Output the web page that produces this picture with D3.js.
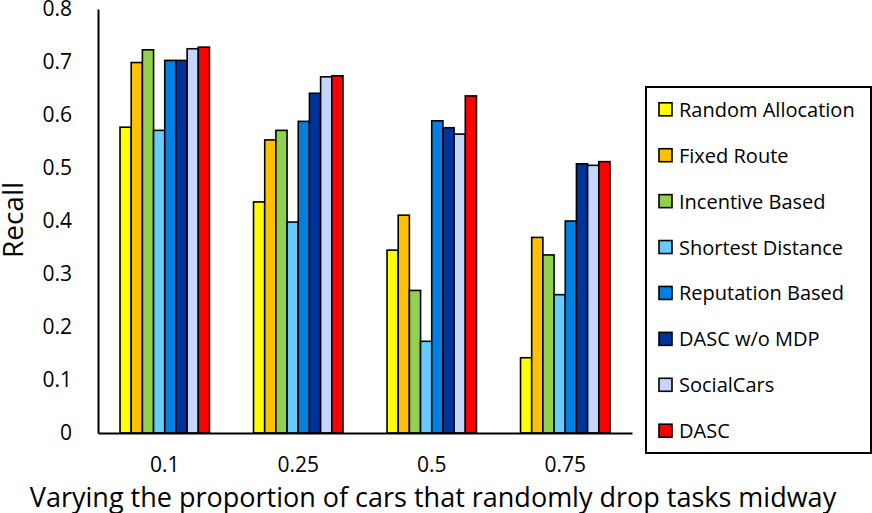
<!DOCTYPE html>
<html>
<head>
<meta charset="utf-8">
<script src="https://cdn.jsdelivr.net/npm/d3@7"></script>
<style>
  body { margin: 0; background: #fff; }
  text { font-family: "Open Sans", sans-serif; fill: #000; }
</style>
</head>
<body>
<div id="container"></div>
<script>
// proportions of cars dropping tasks (x categories)
var categories = ["0.1", "0.25", "0.5", "0.75"];
var seriesNames = ["Random Allocation", "Fixed Route", "Incentive Based", "Shortest Distance",
                   "Reputation Based", "DASC w/o MDP", "SocialCars", "DASC"];
var seriesColors = ["#FFFF00", "#FFC000", "#92D050", "#66CCFF",
                    "#0080E0", "#003399", "#C5D5FC", "#FF0000"];

// recall per series, one value per category
var randomAllocation = [0.577, 0.436, 0.345, 0.142];
var fixedRoute       = [0.699, 0.553, 0.411, 0.369];
var incentiveBased   = [0.723, 0.571, 0.269, 0.336];
var shortestDistance = [0.571, 0.398, 0.173, 0.261];
var reputationBased  = [0.703, 0.588, 0.589, 0.400];
var dascNoMdp        = [0.703, 0.641, 0.576, 0.508];
var socialCars       = [0.725, 0.672, 0.564, 0.505];
var dasc             = [0.728, 0.674, 0.636, 0.512];

var yTicks = [0, 0.1, 0.2, 0.3, 0.4, 0.5, 0.6, 0.7, 0.8];

var allSeries = [randomAllocation, fixedRoute, incentiveBased, shortestDistance,
                 reputationBased, dascNoMdp, socialCars, dasc];

var width = 872, height = 513;
// plot edges (window.top is reserved, so avoid bare "top")
var plotLeft = 98, plotRight = 632, plotTop = 9, plotBottom = 433;

var svg = d3.select("#container").append("svg")
    .attr("width", width)
    .attr("height", height);

var x = d3.scaleBand().domain(categories).range([plotLeft, plotRight]).paddingInner(0.33).paddingOuter(0.165);
var xInner = d3.scaleBand().domain(d3.range(seriesNames.length)).range([0, x.bandwidth()]);
var y = d3.scaleLinear().domain([0, 0.8]).range([plotBottom, plotTop]);

// flatten into bar records
var bars = [];
categories.forEach(function(c, ci){
  allSeries.forEach(function(s, si){
    bars.push({cat: c, s: si, v: s[ci]});
  });
});

svg.selectAll("rect.bar")
    .data(bars)
    .enter()
    .append("rect")
    .attr("class", "bar")
    .attr("x", function(d){ return x(d.cat) + xInner(d.s); })
    .attr("y", function(d){ return y(d.v); })
    .attr("width", xInner.bandwidth())
    .attr("height", function(d){ return y(0) - y(d.v); })
    .style("fill", function(d){ return seriesColors[d.s]; })
    .style("stroke", "#000")
    .style("stroke-width", 1.6);

// axes
var yAxis = svg.append("g").attr("transform", "translate(" + plotLeft + ",0)")
    .call(d3.axisLeft(y).tickValues(yTicks).tickSize(0).tickPadding(26)
      .tickFormat(function(d){ return d === 0 ? "0" : d3.format(".1f")(d); }));
yAxis.select(".domain").attr("stroke", "#000").attr("stroke-width", 2);
yAxis.selectAll("text").style("font-size", "21px").style("font-family", "Open Sans");

var xAxis = svg.append("g").attr("transform", "translate(0," + plotBottom + ")")
    .call(d3.axisBottom(x).tickSize(0).tickPadding(24));
xAxis.select(".domain").attr("stroke", "#000").attr("stroke-width", 2);
xAxis.selectAll("text").style("font-size", "21px").style("font-family", "Open Sans");

// axis titles
svg.append("text")
    .attr("transform", "translate(12,220) rotate(-90)")
    .attr("text-anchor", "middle")
    .attr("dominant-baseline", "central")
    .style("font-size", "28px")
    .text("Recall");

svg.append("text")
    .attr("x", 433)
    .attr("y", 507)
    .attr("text-anchor", "middle")
    .style("font-size", "27px")
    .text("Varying the proportion of cars that randomly drop tasks midway");

// legend
var legend = svg.append("g");
legend.append("rect")
    .attr("x", 646).attr("y", 87)
    .attr("width", 225).attr("height", 366)
    .style("fill", "none").style("stroke", "#000").style("stroke-width", 2);

var ly = d3.scalePoint().domain(seriesNames).range([109.3, 430.7]);
var items = legend.selectAll("g.item")
    .data(seriesNames)
    .enter()
    .append("g")
    .attr("class", "item")
    .attr("transform", function(d){ return "translate(0," + ly(d) + ")"; });

items.append("rect")
    .attr("x", 659).attr("y", -6.5)
    .attr("width", 13).attr("height", 13)
    .style("fill", function(d, i){ return seriesColors[i]; })
    .style("stroke", "#000").style("stroke-width", 1.6);

items.append("text")
    .attr("x", 679)
    .attr("dominant-baseline", "central")
    .style("font-size", "20px")
    .text(function(d){ return d; });
</script>
</body>
</html>
